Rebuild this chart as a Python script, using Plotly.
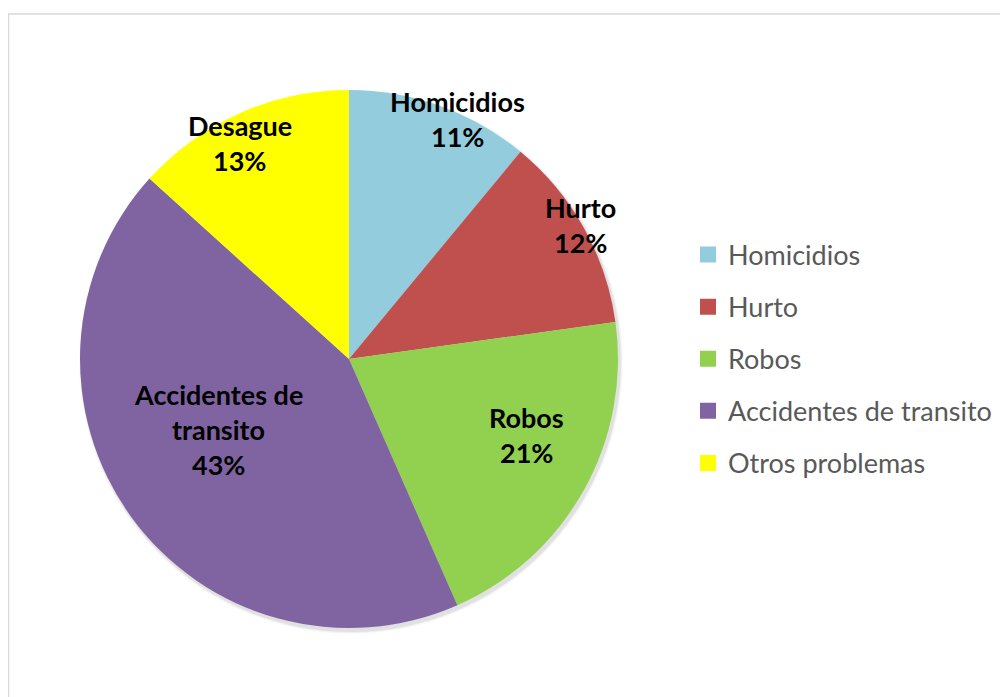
import math
import plotly.graph_objects as go

# data
categories = ["Homicidios", "Hurto", "Robos", "Accidentes de transito", "Otros problemas"]
slice_labels = ["Homicidios", "Hurto", "Robos", "Accidentes de<br>transito", "Desague"]
values = [11.0, 11.8, 20.6, 43.3, 13.3]
colors = ["#93CDDD", "#C0504D", "#92D050", "#8064A2", "#FFFF00"]

# label placement (fraction of radius, angle nudge in degrees) - mimics excel "best fit"
label_radius = [0.977, 0.993, 0.72, 0.549, 0.898]
label_nudge = [4.5, -0.9, -5.9, 7.5, -2.9]

W, H = 1008, 697
# page has an 8px body margin, so figure coords = screen coords - 8
cx, cy, R = 341, 351, 269
line_gap = 35


def px_to_paper(x, y):
    return x / W, 1 - y / H


fig = go.Figure()

# soft shadow under the pie
for i, a in enumerate([0.06, 0.04, 0.02]):
    d = i + 1
    x0, y0 = px_to_paper(cx - R + 2 - d, cy - R + 3 - d)
    x1, y1 = px_to_paper(cx + R + 2 + d, cy + R + 3 + d)
    fig.add_shape(type="circle", xref="paper", yref="paper", x0=x0, y0=y1, x1=x1, y1=y0,
                  fillcolor="rgba(0,0,0,%s)" % a, line_width=0, layer="below")

dx0, dy0 = px_to_paper(cx - R, cy - R)
dx1, dy1 = px_to_paper(cx + R, cy + R)
fig.add_trace(
    go.Pie(
        labels=categories,
        values=values,
        marker=dict(colors=colors, line=dict(width=0)),
        sort=False,
        direction="clockwise",
        rotation=0,
        textinfo="none",
        hoverinfo="label+percent",
        showlegend=False,
        domain=dict(x=[dx0, dx1], y=[dy1, dy0]),
    )
)

# legend entries as dummy traces so the spacing can match
for i, (name, col) in enumerate(zip(categories, colors)):
    fig.add_trace(
        go.Scatter(
            x=[None], y=[None], mode="markers", name=name,
            marker=dict(symbol="square", size=17, color=col),
            legendgroup=str(i), showlegend=True,
        )
    )

# data labels
total = sum(values)
cum = 0
for i, v in enumerate(values):
    mid = (cum + v / 2) / total * 360 + label_nudge[i]
    cum += v
    r = R * label_radius[i]
    bx = cx + r * math.sin(math.radians(mid))
    by = cy - r * math.cos(math.radians(mid))
    pct = "%d%%" % round(v / total * 100)
    lines = slice_labels[i].split("<br>") + [pct]
    n = len(lines)
    for j, t in enumerate(lines):
        ly = by + (j - (n - 1) / 2) * line_gap
        ax, ay = px_to_paper(bx, ly)
        fig.add_annotation(
            x=ax, y=ay, xref="paper", yref="paper", text="<b>%s</b>" % t,
            showarrow=False, xanchor="center", yanchor="middle",
            font=dict(family="Lato", size=27, color="#000000"),
        )

# chart area border
fig.add_shape(type="rect", xref="paper", yref="paper",
              x0=0.5 / W, y0=-0.05, x1=1.05, y1=1 - 6 / H,
              line=dict(color="#D9D9D9", width=1.5))

fig.update_layout(
    width=W,
    height=H,
    margin=dict(l=0, r=0, t=0, b=0),
    paper_bgcolor="white",
    plot_bgcolor="white",
    xaxis=dict(visible=False),
    yaxis=dict(visible=False),
    legend=dict(
        x=680 / W, y=1 - 351 / H, xanchor="left", yanchor="middle",
        font=dict(family="Lato", size=27, color="#595959"),
        tracegroupgap=14,
        itemsizing="trace",
        bgcolor="rgba(0,0,0,0)",
    ),
)

fig.write_html("out.html")
